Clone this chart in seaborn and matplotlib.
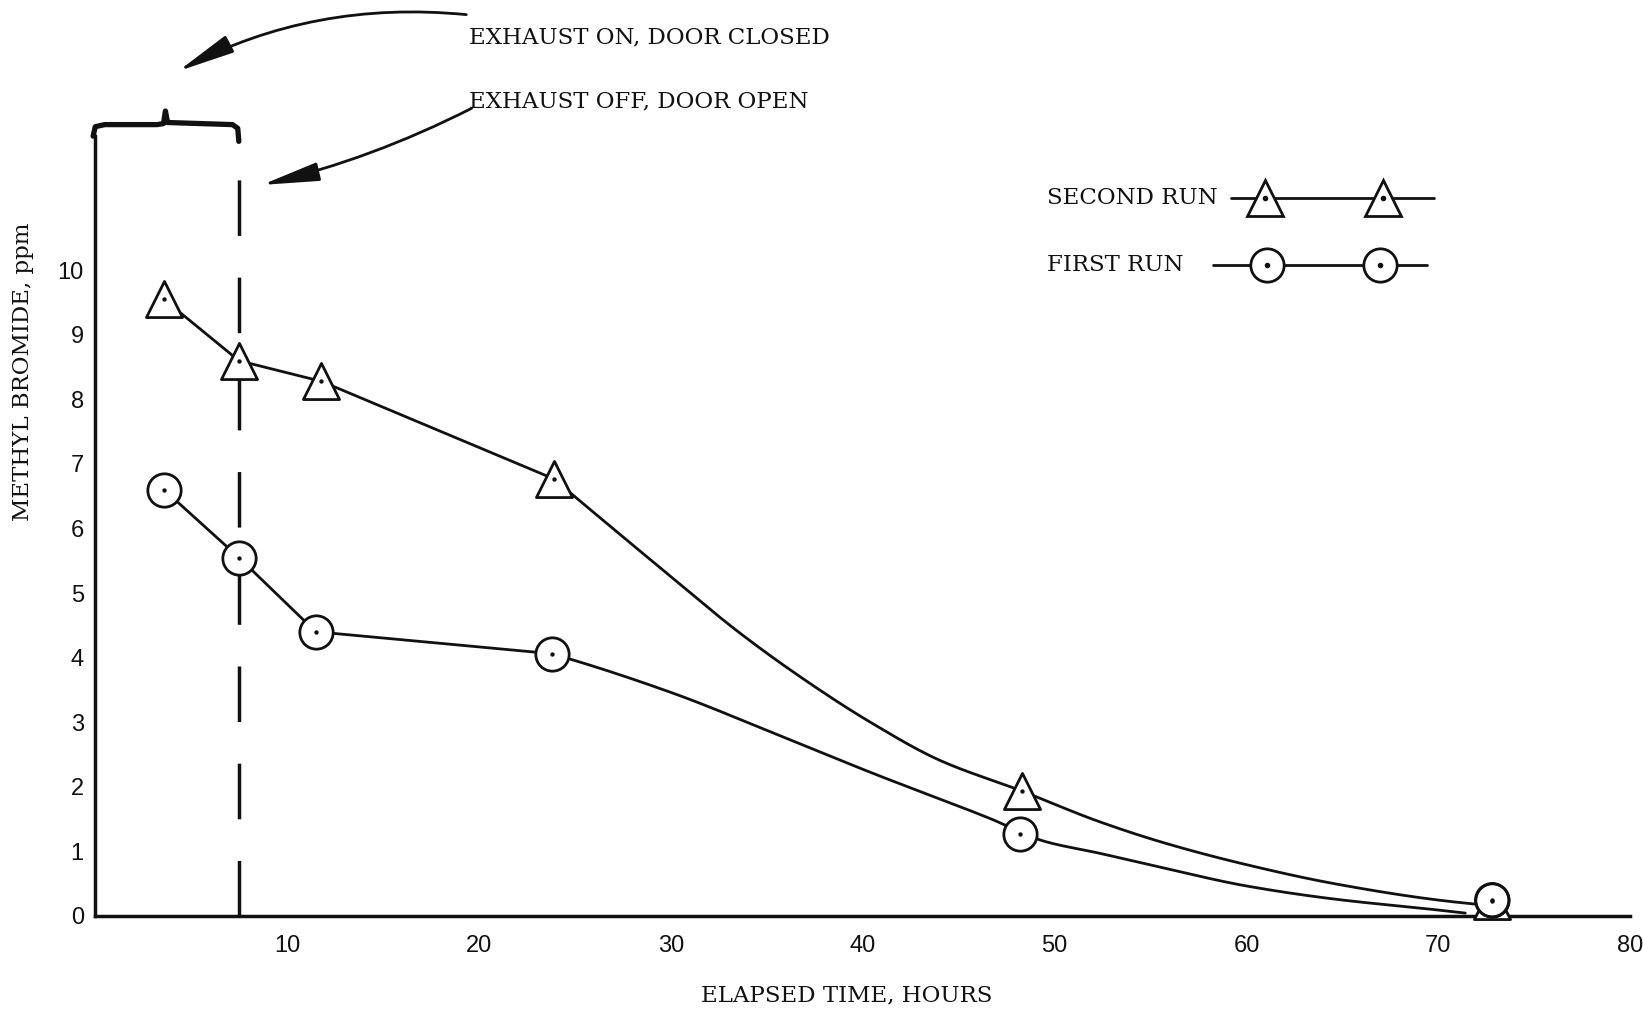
import numpy as np
import pandas as pd
import matplotlib
matplotlib.use("Agg")
import matplotlib.pyplot as plt
import seaborn as sns
from matplotlib import font_manager

# Methyl bromide concentration readings
hours_second = [3.6, 7.5, 11.8, 23.9, 48.3, 72.8]
ppm_second = [9.55, 8.6, 8.28, 6.77, 1.93, 0.23]
hours_first = [3.6, 7.5, 11.5, 23.8, 48.2, 72.8]
ppm_first = [6.6, 5.55, 4.4, 4.06, 1.27, 0.24]

# hand-faired decay curves drawn through each run
second_curve_hours = [3.6, 7.5, 11.8, 23.9, 29.7, 33.6, 37.1, 40.5, 44.0, 48.3,
                      52.3, 55.8, 60.0, 64.5, 69.9, 71.9]
second_curve_ppm = [9.55, 8.6, 8.28, 6.77, 5.33, 4.38, 3.63, 2.98, 2.41, 1.93,
                    1.46, 1.12, 0.79, 0.50, 0.245, 0.18]
first_curve_hours = [3.6, 7.5, 11.5, 23.8, 30.1, 35.6, 40.5, 46.6, 49.5, 52.3,
                     55.8, 60.0, 64.5, 69.9, 71.4]
first_curve_ppm = [6.6, 5.55, 4.4, 4.06, 3.45, 2.80, 2.21, 1.51, 1.15, 0.97,
                   0.73, 0.46, 0.26, 0.09, 0.04]
straight_part = 4   # the first four readings are joined by straight segments

door_open_hours = 7.5

x_ticks = [10, 20, 30, 40, 50, 60, 70, 80]
y_ticks = [0, 1, 2, 3, 4, 5, 6, 7, 8, 9, 10]

sns.set_theme(style="white")
installed = {f.name for f in font_manager.fontManager.ttflist}
TYPE_FONT = ["DejaVu Serif"]
LETTER_FONT = ["Liberation Sans Narrow"] if "Liberation Sans Narrow" in installed else ["Liberation Sans"]
plt.rcParams["font.family"] = TYPE_FONT
plt.rcParams["lines.solid_capstyle"] = "round"

INK = "#111111"
TSIZE = 16.5


def pchip(x, y, xs):
    """Shape-preserving piecewise cubic through the given points."""
    x = np.asarray(x, float)
    y = np.asarray(y, float)
    h = np.diff(x)
    d = np.diff(y) / h
    n = len(x)
    m = np.zeros(n)
    for k in range(1, n - 1):
        if d[k - 1] * d[k] > 0:
            w1 = 2 * h[k] + h[k - 1]
            w2 = h[k] + 2 * h[k - 1]
            m[k] = (w1 + w2) / (w1 / d[k - 1] + w2 / d[k])

    def end_slope(h0, h1, d0, d1):
        s = ((2 * h0 + h1) * d0 - h0 * d1) / (h0 + h1)
        if np.sign(s) != np.sign(d0):
            s = 0.0
        elif np.sign(d0) != np.sign(d1) and abs(s) > abs(3 * d0):
            s = 3 * d0
        return s

    m[0] = end_slope(h[0], h[1], d[0], d[1])
    m[-1] = end_slope(h[-1], h[-2], d[-1], d[-2])
    idx = np.clip(np.searchsorted(x, xs) - 1, 0, n - 2)
    t = (xs - x[idx]) / h[idx]
    h00 = 2 * t**3 - 3 * t**2 + 1
    h10 = t**3 - 2 * t**2 + t
    h01 = -2 * t**3 + 3 * t**2
    h11 = t**3 - t**2
    return h00 * y[idx] + h10 * h[idx] * m[idx] + h01 * y[idx + 1] + h11 * h[idx] * m[idx + 1]


def faired(hrs, vals):
    """Straight joins for the early readings, a smooth fair curve afterwards."""
    k = straight_part - 1
    xs = np.linspace(hrs[k], hrs[-1], 400)
    ys = pchip(hrs[k:], vals[k:], xs)
    return (np.concatenate([hrs[:k], xs]), np.concatenate([vals[:k], ys]))


fig = plt.figure(figsize=(16.43, 10.10), dpi=100)
ax = fig.add_axes([0.0578, 0.0934, 0.9345, 0.7718])
ax.set_xlim(0, 80)
ax.set_ylim(0, 12.08)

for hrs, vals in [(second_curve_hours, second_curve_ppm), (first_curve_hours, first_curve_ppm)]:
    cx, cy = faired(hrs, vals)
    curve = pd.DataFrame({"hours": cx, "ppm": cy})
    sns.lineplot(data=curve, x="hours", y="ppm", color=INK, linewidth=2.0,
                 estimator=None, sort=False, ax=ax, zorder=2)

# markers with a centre dot
sns.scatterplot(x=hours_second, y=ppm_second, marker="^", s=26**2, color="white",
                edgecolor=INK, linewidth=2.0, ax=ax, zorder=4, clip_on=False)
sns.scatterplot(x=hours_first, y=ppm_first, marker="o", s=24**2, color="white",
                edgecolor=INK, linewidth=2.0, ax=ax, zorder=4, clip_on=False)
sns.scatterplot(x=hours_second + hours_first, y=ppm_second + ppm_first, marker="o",
                s=10, color=INK, edgecolor=INK, linewidth=0, ax=ax, zorder=6, clip_on=False)
# last reading of the first run drawn over the triangle
sns.scatterplot(x=hours_first[-1:], y=ppm_first[-1:], marker="o", s=24**2, color="none",
                edgecolor=INK, linewidth=2.0, ax=ax, zorder=5, clip_on=False)

# door opened
ax.axvline(door_open_hours, ymin=0, ymax=0.975, color=INK, linewidth=2.5,
           linestyle=(0, (16, 12)), zorder=1)

# brace over the closed-door period
brace_x = [-0.0012, 0.0002, 0.0063, 0.0405, 0.0446, 0.0459, 0.0473, 0.0896, 0.0930, 0.0937]
brace_y = [1.0, 1.0121, 1.0148, 1.0148, 1.0161, 1.0323, 1.0175, 1.0148, 1.0100, 0.9933]
ax.plot(brace_x, brace_y, transform=ax.transAxes, color=INK, linewidth=3.8,
        clip_on=False, solid_joinstyle="round")

# annotations
ax.text(0.2438, 1.1263, "EXHAUST ON, DOOR CLOSED", transform=ax.transAxes,
        ha="left", va="center", fontsize=TSIZE, color=INK)
ax.text(0.2438, 1.0444, "EXHAUST OFF, DOOR OPEN", transform=ax.transAxes,
        ha="left", va="center", fontsize=TSIZE, color=INK)
arrow_kw = dict(arrowstyle="-|>,head_length=1.6,head_width=0.26", color=INK,
                lw=2.0, mutation_scale=22, shrinkA=0, shrinkB=0)
ax.annotate("", xy=(0.0541, 1.0833), xytext=(0.2418, 1.1559), xycoords="axes fraction",
            textcoords="axes fraction",
            arrowprops=dict(connectionstyle="arc3,rad=0.15", **arrow_kw), annotation_clip=False)
ax.annotate("", xy=(0.1086, 0.9374), xytext=(0.2453, 1.0357), xycoords="axes fraction",
            textcoords="axes fraction",
            arrowprops=dict(connectionstyle="arc3,rad=-0.06", **arrow_kw), annotation_clip=False)

# key
ax.text(0.620, 0.9207, "SECOND RUN", transform=ax.transAxes, ha="left", va="center",
        fontsize=TSIZE, color=INK)
ax.text(0.620, 0.8347, "FIRST RUN", transform=ax.transAxes, ha="left", va="center",
        fontsize=TSIZE, color=INK)
ax.plot([0.740, 0.872], [0.9207, 0.9207], transform=ax.transAxes, color=INK, lw=2.0, zorder=3)
ax.plot([0.7284, 0.8676], [0.8347, 0.8347], transform=ax.transAxes, color=INK, lw=2.0, zorder=3)
for kx in [0.762, 0.839]:
    ax.plot([kx], [0.9207], transform=ax.transAxes, marker="^", ms=26, mfc="white",
            mec=INK, mew=2.0, zorder=4)
    ax.plot([kx], [0.9207], transform=ax.transAxes, marker="o", ms=3, color=INK, zorder=5)
for kx in [0.7632, 0.837]:
    ax.plot([kx], [0.8347], transform=ax.transAxes, marker="o", ms=24, mfc="white",
            mec=INK, mew=2.0, zorder=4)
    ax.plot([kx], [0.8347], transform=ax.transAxes, marker="o", ms=3, color=INK, zorder=5)

# axes styling
for side in ["top", "right"]:
    ax.spines[side].set_visible(False)
for side in ["left", "bottom"]:
    ax.spines[side].set_color(INK)
    ax.spines[side].set_linewidth(2.5)
ax.set_xticks(x_ticks)
ax.set_yticks(y_ticks)
ax.set_xticklabels([str(v) for v in x_ticks], family=LETTER_FONT, fontsize=17)
ax.set_yticklabels([str(v) for v in y_ticks], family=LETTER_FONT, fontsize=17)
ax.tick_params(axis="x", direction="in", length=16, width=2, color=INK, pad=14, labelcolor=INK)
ax.tick_params(axis="y", direction="in", length=15, width=2.5, color=INK, pad=8, labelcolor=INK)

ax.set_xlabel("ELAPSED TIME, HOURS", fontsize=TSIZE, color=INK)
ax.set_ylabel("METHYL BROMIDE, ppm", fontsize=TSIZE, color=INK)
ax.xaxis.set_label_coords(0.4895, -0.0887)
ax.yaxis.set_label_coords(-0.040, 0.6976)

fig.savefig("out.png", dpi=100, facecolor="white")
